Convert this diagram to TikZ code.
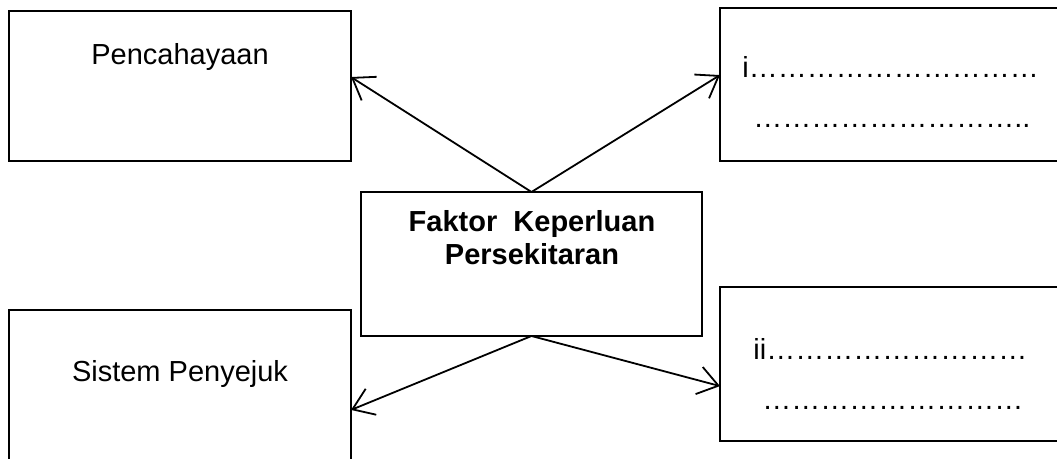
\documentclass[tikz,border=0pt]{standalone}
\usepackage{fontspec}
\setmainfont{Liberation Sans}
\usetikzlibrary{arrows.meta, positioning}

\newcommand\dotrun[1]{\foreach \k in {1,...,#1}{…}}

\tikzset{
  box/.style={draw, line width=0.75pt, inner sep=0pt, outer sep=0pt},
  label/.style={inner sep=0pt, font=\fontsize{14.5}{16.5}\selectfont},
  link/.style={line width=0.9pt, -{Straight Barb[length=10pt, width=14pt, line width=0.9pt]}}
}

\begin{document}
\begin{tikzpicture}[x=0.5pt, y=-0.5pt]
  \useasboundingbox (0,0) rectangle (1057,459);
  \clip (0,0) rectangle (1057,459);

  % Boxes
  \node[box, minimum width=171pt, minimum height=75pt] (light) at (180,86) {};
  \node[box, minimum width=180pt, minimum height=76.5pt] (one) at (900,84.5) {};
  \node[box, minimum width=170.5pt, minimum height=72pt] (factor) at (531.5,264) {};
  \node[box, minimum width=171pt, minimum height=85pt] (cool) at (180,395) {};
  \node[box, minimum width=180pt, minimum height=77pt] (two) at (900,364) {};

  % Texts
  \node[label, anchor=base] (lighttext) at (180,65) {Pencahayaan};
  \node[label, anchor=base] (cooltext) at (180,382) {Sistem Penyejuk};
  \node[label, anchor=north, align=center, font=\fontsize{14.5}{16.5}\selectfont\bfseries]
    (factortext) at (532,210) {Faktor\ \ Keperluan\\Persekitaran};
  \node[label, anchor=base west] (onea) at (742,78) {i\dotrun{10}};
  \node[label, anchor=base west] (oneb) at (753,128) {\dotrun{9}..};
  \node[label, anchor=base west] (twoa) at (753,360) {ii\dotrun{9}};
  \node[label, anchor=base west] (twob) at (762,410) {\dotrun{9}};

  % Edges
  \draw[link] (factor.north) -- (light.3.6);
  \draw[link] (factor.north) -- (one.177.3);
  \draw[link] (factor.south) -- (cool.-5.6);
  \draw[link] (factor.south) -- (two.187.5);
\end{tikzpicture}
\end{document}
